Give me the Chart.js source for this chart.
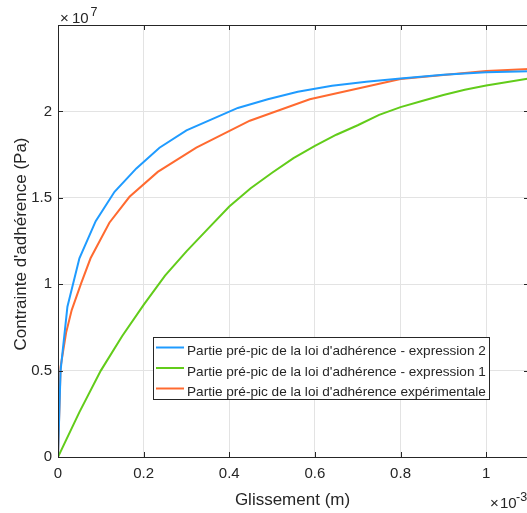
<!DOCTYPE html>
<html>
<head>
<meta charset="utf-8">
<script src="https://cdn.jsdelivr.net/npm/chart.js@4.4.1/dist/chart.umd.min.js"></script>
<style>
  html, body { margin: 0; padding: 0; background: #fff; overflow: hidden; }
  canvas { display: block; }
</style>
</head>
<body>
<canvas id="adhChart" width="531" height="513"></canvas>
<script>
// glissement in 1e-3 m, contrainte in 1e7 Pa (as read on the axes)
const xTicks = [0, 0.2, 0.4, 0.6, 0.8, 1];
const yTicks = [0, 0.5, 1, 1.5, 2];

const expr2Label = "Partie pré-pic de la loi d'adhérence - expression 2";
const expr2X = [0, 0.006, 0.022, 0.05, 0.088, 0.132, 0.183, 0.237, 0.30, 0.36, 0.42, 0.49, 0.56, 0.64, 0.72, 0.80, 0.90, 1.0, 1.1];
const expr2Y = [0, 0.50, 0.87, 1.15, 1.365, 1.535, 1.67, 1.79, 1.89, 1.955, 2.02, 2.07, 2.114, 2.148, 2.172, 2.19, 2.212, 2.226, 2.232];

const expr1Label = "Partie pré-pic de la loi d'adhérence - expression 1";
const expr1X = [0, 0.05, 0.1, 0.15, 0.2, 0.25, 0.3, 0.35, 0.4, 0.45, 0.5, 0.55, 0.6, 0.65, 0.7, 0.75, 0.8, 0.85, 0.9, 0.95, 1.0, 1.05, 1.1];
const expr1Y = [0, 0.26, 0.50, 0.70, 0.88, 1.05, 1.19, 1.32, 1.45, 1.555, 1.645, 1.73, 1.80, 1.865, 1.92, 1.98, 2.025, 2.06, 2.095, 2.125, 2.15, 2.17, 2.19];

const expLabel = "Partie pré-pic de la loi d'adhérence expérimentale";
const expX = [0, 0.006, 0.019, 0.032, 0.054, 0.076, 0.12, 0.167, 0.233, 0.323, 0.448, 0.588, 0.80, 1.0, 1.1];
const expY = [0, 0.52, 0.72, 0.85, 1.005, 1.15, 1.356, 1.506, 1.65, 1.79, 1.946, 2.07, 2.187, 2.234, 2.245];

const axisColor = '#262626';
const fontFamily = '"Liberation Sans", Arial, Helvetica, sans-serif';

function toPoints(xs, ys) {
    return xs.map((x, i) => ({ x: x, y: ys[i] }));
}

function fmt(v) {
    return String(Math.round(v * 10) / 10);
}

// MATLAB-like box, inward ticks, exponents, axis titles and legend
const matlabLook = {
    id: 'matlabLook',
    afterDraw(chart) {
        const ctx = chart.ctx;
        const area = chart.chartArea;
        const xs = chart.scales.x;
        const ys = chart.scales.y;
        const tl = 5;

        ctx.save();
        ctx.strokeStyle = axisColor;
        ctx.lineWidth = 1;
        ctx.beginPath();
        xTicks.forEach(v => {
            const px = Math.round(xs.getPixelForValue(v)) + 0.5;
            ctx.moveTo(px, area.bottom); ctx.lineTo(px, area.bottom - tl);
            ctx.moveTo(px, area.top); ctx.lineTo(px, area.top + tl);
        });
        yTicks.forEach(v => {
            const py = Math.round(ys.getPixelForValue(v)) + 0.5;
            ctx.moveTo(area.left, py); ctx.lineTo(area.left + tl, py);
            ctx.moveTo(area.right, py); ctx.lineTo(area.right - tl, py);
        });
        ctx.stroke();
        ctx.strokeRect(Math.round(area.left) + 0.5, Math.round(area.top) + 0.5,
            Math.round(area.right - area.left), Math.round(area.bottom - area.top));

        // exponent labels
        ctx.fillStyle = axisColor;
        ctx.textBaseline = 'alphabetic';
        ctx.textAlign = 'left';
        ctx.font = '15px ' + fontFamily;
        ctx.fillText('\u00d7', 60, 22.5);
        ctx.fillText('10', 72, 22.5);
        ctx.font = '12.5px ' + fontFamily;
        ctx.fillText('7', 90.5, 16);
        ctx.font = '15px ' + fontFamily;
        ctx.fillText('\u00d7', 490, 508);
        ctx.fillText('10', 500, 508);
        ctx.font = '12.5px ' + fontFamily;
        ctx.fillText('-3', 516, 501);

        // axis titles
        ctx.font = '17px ' + fontFamily;
        ctx.textAlign = 'center';
        ctx.fillText('Glissement (m)', (area.left + area.right) / 2 - 1, 505);
        ctx.save();
        ctx.translate(25.5, (area.top + area.bottom) / 2 + 3);
        ctx.rotate(-Math.PI / 2);
        ctx.fillText("Contrainte d'adhérence (Pa)", 0, 0);
        ctx.restore();

        // legend
        const box = { x: 153.5, y: 337.5, w: 336, h: 62 };
        ctx.fillStyle = '#ffffff';
        ctx.fillRect(box.x, box.y, box.w, box.h);
        ctx.strokeStyle = axisColor;
        ctx.strokeRect(box.x, box.y, box.w, box.h);
        ctx.font = '13.6px ' + fontFamily;
        ctx.textAlign = 'left';
        chart.data.datasets.forEach((ds, i) => {
            const ly = 347.5 + i * 20.5;
            ctx.strokeStyle = ds.borderColor;
            ctx.lineWidth = 2;
            ctx.beginPath();
            ctx.moveTo(156, ly);
            ctx.lineTo(184, ly);
            ctx.stroke();
            ctx.fillStyle = axisColor;
            ctx.fillText(ds.label, 187, ly + 7.5);
        });
        ctx.restore();
    }
};

new Chart(document.getElementById('adhChart').getContext('2d'), {
    type: 'line',
    data: {
        datasets: [{
            label: expr2Label,
            data: toPoints(expr2X, expr2Y),
            borderColor: '#1f9bff',
            borderWidth: 2,
            pointRadius: 0,
            tension: 0,
            fill: false
        }, {
            label: expr1Label,
            data: toPoints(expr1X, expr1Y),
            borderColor: '#62cc1a',
            borderWidth: 2,
            pointRadius: 0,
            tension: 0,
            fill: false
        }, {
            label: expLabel,
            data: toPoints(expX, expY),
            borderColor: '#ff6a30',
            borderWidth: 2,
            pointRadius: 0,
            tension: 0,
            fill: false
        }]
    },
    options: {
        responsive: false,
        animation: false,
        layout: { padding: { top: 25, right: 2, left: 0, bottom: 0 } },
        plugins: {
            legend: { display: false },
            tooltip: { enabled: false }
        },
        scales: {
            x: {
                type: 'linear',
                min: 0,
                max: 1.1,
                afterBuildTicks: s => { s.ticks = xTicks.map(v => ({ value: v })); },
                afterFit: s => { s.height = 56; },
                grid: { color: '#e3e3e3', drawTicks: false },
                border: { display: false },
                ticks: {
                    padding: 8,
                    color: axisColor,
                    font: { family: fontFamily, size: 15 },
                    maxRotation: 0,
                    callback: v => fmt(v)
                }
            },
            y: {
                type: 'linear',
                min: 0,
                max: 2.5,
                afterBuildTicks: s => { s.ticks = yTicks.map(v => ({ value: v })); },
                afterFit: s => { s.width = 58; },
                grid: { color: '#e3e3e3', drawTicks: false },
                border: { display: false },
                ticks: {
                    padding: 6,
                    color: axisColor,
                    font: { family: fontFamily, size: 15 },
                    callback: v => fmt(v)
                }
            }
        }
    },
    plugins: [matlabLook]
});
</script>
</body>
</html>
